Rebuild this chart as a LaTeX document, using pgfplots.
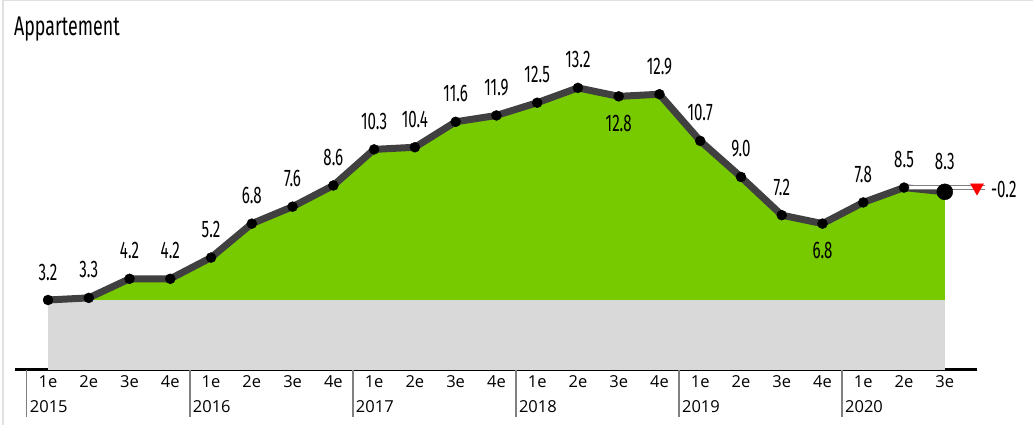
\documentclass[border=0pt]{standalone}
\usepackage{fontspec}
\setmainfont{Open Sans}
\newfontfamily\cond{Fira Sans}[FakeStretch=0.63]
\newfontfamily\condt{Fira Sans}[FakeStretch=0.66]
\usepackage{pgfplots}
\pgfplotsset{compat=1.18}
\usetikzlibrary{calc}
\definecolor{lgreen}{HTML}{77C900}
\definecolor{lgray}{HTML}{D9D9D9}
\definecolor{dline}{HTML}{404040}
\begin{document}
\begin{tikzpicture}[x=1pt,y=1pt]
\begin{axis}[scale only axis,
  width=962pt, height=350pt,
  xmin=-0.81, xmax=22.79, ymin=-0.1, ymax=16.4,
  clip=false,
  axis x line*=bottom, axis y line=none,
  x axis line style={line width=3pt, black, -},
  xtick={0,...,22},
  xticklabels={1e,2e,3e,4e,1e,2e,3e,4e,1e,2e,3e,4e,1e,2e,3e,4e,1e,2e,3e,4e,1e,2e,3e},
  major tick length=0pt, ytick=\empty,
  xticklabel style={anchor=base, yshift=-17pt, font=\fontsize{16.5}{18}\selectfont},
  /pgf/number format/.cd, fixed, fixed zerofill, precision=1, assume math mode=true,
]
\addplot[draw=none, fill=lgreen] coordinates {(0,3.2)(1,3.3)(2,4.2)(3,4.2)(4,5.2)(5,6.8)(6,7.6)(7,8.6)(8,10.3)(9,10.4)(10,11.6)(11,11.9)(12,12.5)(13,13.2)(14,12.8)(15,12.9)(16,10.7)(17,9.0)(18,7.2)(19,6.8)(20,7.8)(21,8.5)(22,8.3)(22,3.2)} -- cycle;
\addplot[draw=none, fill=lgray] coordinates {(0,-0.1)(0,3.2)(22,3.2)(22,-0.1)} -- cycle;
\addplot[dline, line width=7pt, line join=round, no markers] coordinates {(0,3.2)(1,3.3)(2,4.2)(3,4.2)(4,5.2)(5,6.8)(6,7.6)(7,8.6)(8,10.3)(9,10.4)(10,11.6)(11,11.9)(12,12.5)(13,13.2)(14,12.8)(15,12.9)(16,10.7)(17,9.0)(18,7.2)(19,6.8)(20,7.8)(21,8.5)(22,8.3)};
\addplot[draw=gray, line width=5pt, no markers] coordinates {(21,8.5)(22.98,8.5)};
\addplot[draw=white, line width=2.5pt, no markers] coordinates {(21,8.5)(22.98,8.5)};
\addplot[only marks, mark=*, mark size=5pt, black, nodes near coords,
  every node near coord/.append style={anchor=center, yshift=28pt, inner sep=0, font=\cond\fontsize{24}{26}\selectfont, black}]
  coordinates {(0,3.2)(1,3.3)(2,4.2)(3,4.2)(4,5.2)(5,6.8)(6,7.6)(7,8.6)(8,10.3)(9,10.4)(10,11.6)(11,11.9)(12,12.5)(13,13.2)(15,12.9)(16,10.7)(17,9.0)(18,7.2)(20,7.8)(21,8.5)};
\addplot[only marks, mark=*, mark size=5pt, black, nodes near coords,
  every node near coord/.append style={anchor=center, yshift=-27pt, inner sep=0, font=\cond\fontsize{24}{26}\selectfont, black}]
  coordinates {(14,12.8)(19,6.8)};
\addplot[only marks, mark=*, mark size=8pt, black, nodes near coords,
  every node near coord/.append style={anchor=center, yshift=30pt, inner sep=0, font=\cond\fontsize{24}{26}\selectfont, black}]
  coordinates {(22,8.3)};
\addplot[only marks, mark=triangle*, mark size=7.5pt, red, mark options={rotate=180}] coordinates {(22.79,8.5)};
\node[anchor=west, inner sep=0, font=\cond\fontsize{24}{26}\selectfont] at (axis cs:23.13,8.4) {-0.2};
\draw[gray, line width=1.3pt] (axis cs:-0.52,-0.1) -- ++(0pt,-47pt);
\draw[gray, line width=1.3pt] (axis cs:3.48,-0.1) -- ++(0pt,-47pt);
\draw[gray, line width=1.3pt] (axis cs:7.48,-0.1) -- ++(0pt,-47pt);
\draw[gray, line width=1.3pt] (axis cs:11.48,-0.1) -- ++(0pt,-47pt);
\draw[gray, line width=1.3pt] (axis cs:15.48,-0.1) -- ++(0pt,-47pt);
\draw[gray, line width=1.3pt] (axis cs:19.48,-0.1) -- ++(0pt,-47pt);
\node[anchor=base west, inner sep=0, font=\fontsize{16.5}{18}\selectfont, yshift=-42pt] at (axis cs:-0.45,-0.1) {2015};
\node[anchor=base west, inner sep=0, font=\fontsize{16.5}{18}\selectfont, yshift=-42pt] at (axis cs:3.55,-0.1) {2016};
\node[anchor=base west, inner sep=0, font=\fontsize{16.5}{18}\selectfont, yshift=-42pt] at (axis cs:7.55,-0.1) {2017};
\node[anchor=base west, inner sep=0, font=\fontsize{16.5}{18}\selectfont, yshift=-42pt] at (axis cs:11.55,-0.1) {2018};
\node[anchor=base west, inner sep=0, font=\fontsize{16.5}{18}\selectfont, yshift=-42pt] at (axis cs:15.55,-0.1) {2019};
\node[anchor=base west, inner sep=0, font=\fontsize{16.5}{18}\selectfont, yshift=-42pt] at (axis cs:19.55,-0.1) {2020};
\coordinate (O) at (axis cs:-0.81,-0.1);
\end{axis}
\pgfresetboundingbox
\path[use as bounding box] ($(O)+(-15,-55)$) rectangle ($(O)+(1018,370)$);
\draw[black!12, line width=1.5pt] ($(O)+(-12,-55)$) -- ($(O)+(-12,369.25)$) -- ($(O)+(1018,369.25)$);
\node[anchor=base west, inner sep=0, font=\condt\fontsize{27}{29}\selectfont] at ($(O)+(-1,334)$) {Appartement};
\end{tikzpicture}
\end{document}
